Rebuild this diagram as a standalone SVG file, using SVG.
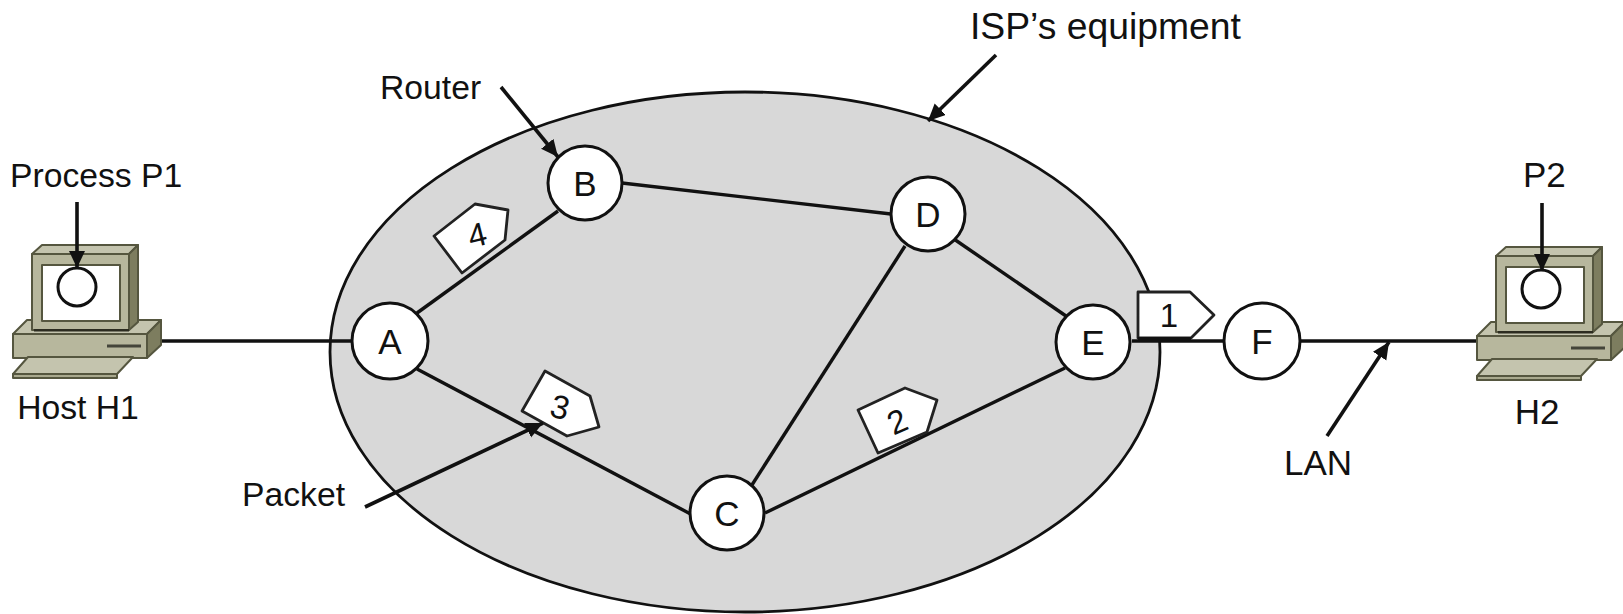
<svg xmlns="http://www.w3.org/2000/svg" width="1623" height="614" viewBox="0 0 1623 614">
<style>
text{font-family:"Liberation Sans",Arial,sans-serif;fill:#111;font-size:33.700px}
.c{text-anchor:middle}
.k{font-size:35px}
.n{fill:#fff;stroke:#111;stroke-width:3}
.l{fill:none;stroke:#111;stroke-width:3.4}
.a{fill:none;stroke:#111;stroke-width:3.6;marker-end:url(#ah)}
.p{fill:#fff;stroke:#222;stroke-width:2.8;stroke-linejoin:round}
.t{font-size:33px}
.m{stroke:#55563f;stroke-width:2;stroke-linejoin:round}
</style>
<defs>
<marker id="ah" markerUnits="userSpaceOnUse" markerWidth="20" markerHeight="18" refX="17" refY="8" orient="auto">
<path d="M0 0L17 8L0 16z" fill="#111"/>
</marker>
<g id="pc">
<polygon class="m" fill="#c4c4ae" points="13,334 27,320 161,320 147,334"/>
<polygon class="m" fill="#7d7d5f" points="147,334 161,320 161,345 147,358"/>
<rect class="m" fill="#b7b79d" x="13" y="334" width="134" height="24"/>
<rect fill="#44453a" x="107" y="344.500" width="34" height="3"/>
<polygon class="m" fill="#c4c4ae" points="13,374 28,357 133,357 117,374"/>
<rect class="m" fill="#a9a98e" x="13" y="374" width="104" height="4"/>
<polygon class="m" fill="#c4c4ae" points="32,254 42,245 138,245 129,254"/>
<polygon class="m" fill="#7d7d5f" points="129,254 138,245 138,322 129,330"/>
<rect class="m" fill="#b7b79d" x="32" y="254" width="97" height="76"/>
<rect fill="#2c2c20" x="34" y="329" width="95" height="2.500"/>
<rect class="m" fill="#fff" x="42" y="265" width="78" height="56"/>
<circle cx="77" cy="287" r="19" fill="#fff" stroke="#111" stroke-width="3"/>
</g>
</defs>
<ellipse id="isp" cx="745" cy="352" rx="415" ry="260" fill="#d8d8d8" stroke="#111" stroke-width="2.800"/>
<g id="connectors">
<path class="l" d="M161 341H352"/>
<path class="l" d="M417 313L558 211"/>
<path class="l" d="M417 369L700 519"/>
<path class="l" d="M622 183L891 214"/>
<path class="l" d="M951 237L1066 316"/>
<path class="l" d="M750 488L905 246"/>
<path class="l" d="M765 513L1065 368"/>
<path class="l" d="M1132 341H1224"/>
<path class="l" d="M1300 341H1477"/>
</g>
<g id="host-h1"><use href="#pc"/><text class="c" x="78" y="419">Host H1</text></g>
<g id="host-h2"><use href="#pc" x="1464" y="2"/><text class="c k" x="1537" y="424">H2</text></g>
<g id="node-a"><circle class="n" cx="390" cy="341" r="38"/><text class="c k" x="390" y="354">A</text></g>
<g id="node-b"><circle class="n" cx="585" cy="183" r="37"/><text class="c k" x="585" y="196">B</text></g>
<g id="node-c"><circle class="n" cx="727" cy="513" r="37"/><text class="c k" x="727" y="526">C</text></g>
<g id="node-d"><circle class="n" cx="928" cy="214" r="37"/><text class="c k" x="928" y="227">D</text></g>
<g id="node-e"><circle class="n" cx="1093" cy="342" r="37"/><text class="c k" x="1093" y="355">E</text></g>
<g id="node-f"><circle class="n" cx="1262" cy="341" r="38"/><text class="c k" x="1262" y="354">F</text></g>
<g id="packet-1"><polygon class="p" points="1138,292 1190,292 1214,315 1191,338 1138,338"/><path d="M1138 339H1191" stroke="#111" stroke-width="4"/><text class="c t" x="1169" y="327">1</text></g>
<g id="packet-2"><polygon class="p" points="858,410 905,388 937,400 927,432 878,453"/><text class="c t" transform="translate(902 432) rotate(-24)">2</text></g>
<g id="packet-3"><polygon class="p" points="522,411 545,371 590,396 599,427 567,436"/><text class="c t" transform="translate(557 418) rotate(15)">3</text></g>
<g id="packet-4"><polygon class="p" points="434,236 475,204 508,210 505,240 462,273"/><text class="c t" transform="translate(480 246) rotate(-14)">4</text></g>
<g id="annotations">
<path class="a" d="M77 202V268"/>
<path class="a" d="M1542 203V271"/>
<path class="a" d="M501 87L558 157"/>
<path class="a" d="M996 55L928 121"/>
<path class="a" d="M365 507L543 423"/>
<path class="a" d="M1327 436L1389 342"/>
<text x="10" y="187">Process P1</text>
<text x="380" y="99">Router</text>
<text x="970" y="39" style="font-size:37.300px">ISP’s equipment</text>
<text x="242" y="506">Packet</text>
<text class="k" x="1284" y="475">LAN</text>
<text class="k" x="1523" y="187">P2</text>
</g>
</svg>
